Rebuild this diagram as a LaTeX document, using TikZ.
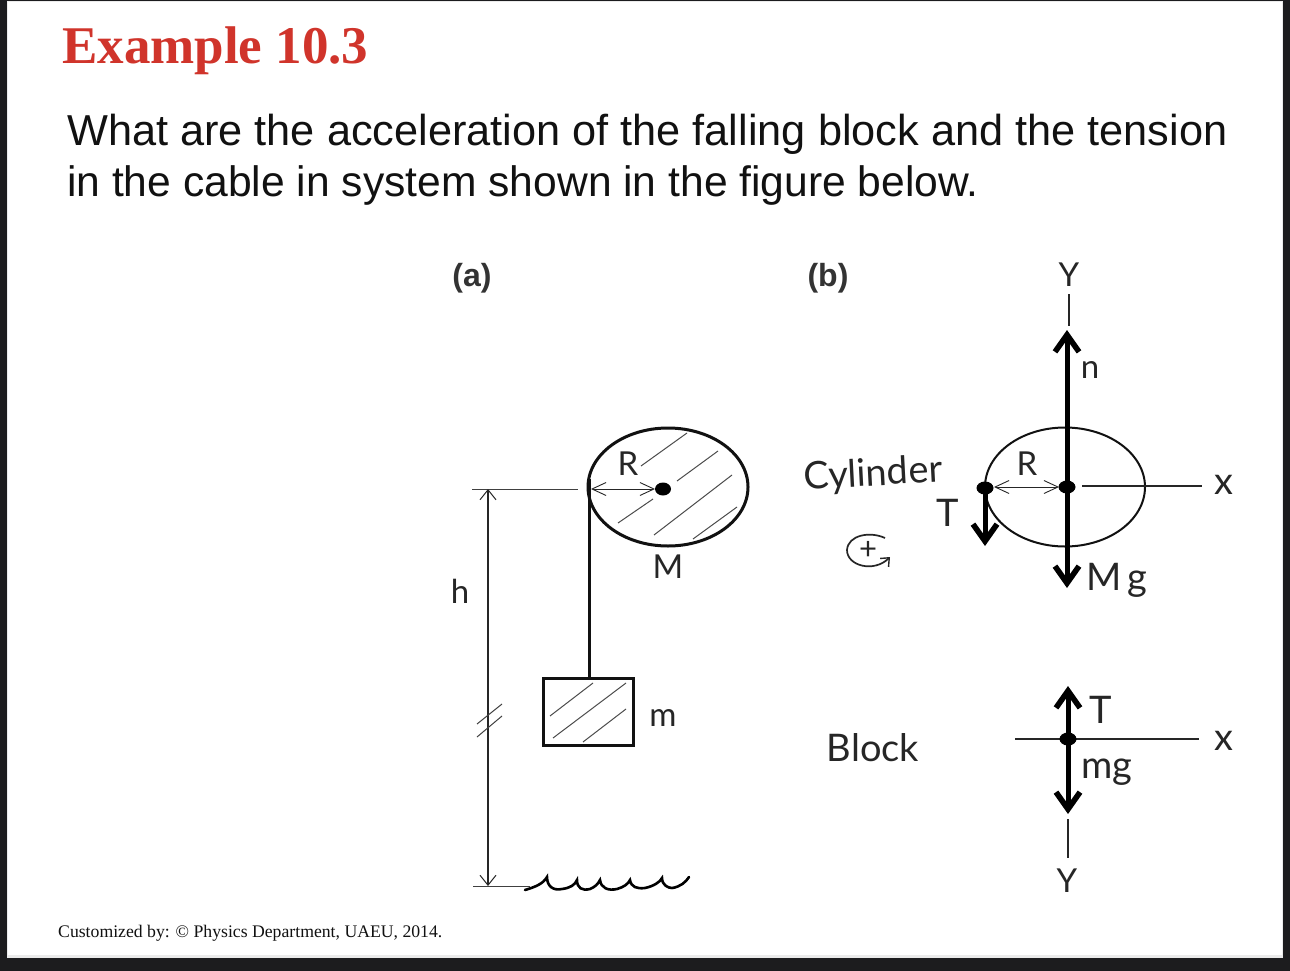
\documentclass[tikz,border=0pt]{standalone}
\usepackage{fontspec}
\usetikzlibrary{arrows.meta}
\setmainfont{Liberation Sans}
\newfontfamily\serifface{Liberation Serif}
\newfontfamily\hand{Lato}
\definecolor{frame}{HTML}{1C1C1E}
\definecolor{titlered}{HTML}{D0342B}
\definecolor{ink}{HTML}{111111}
\tikzset{
  hatch/.style={line width=1pt,draw=black!70},
  thin line/.style={line width=1pt,draw=black!75},
  wheel/.style={line width=3pt,draw=ink},
  openarrows/.style={line width=1.2pt,draw=black!85,{Straight Barb[length=10pt,width=16pt,line width=1pt]}-{Straight Barb[length=10pt,width=16pt,line width=1pt]}},
  radiusarrows/.style={line width=1pt,draw=black!85,{Straight Barb[length=14pt,width=13pt,line width=0.9pt]}-{Straight Barb[length=14pt,width=13pt,line width=0.9pt]}},
  force/.style={line width=5pt,draw=black,-{Straight Barb[length=17pt,width=24pt,line width=5.6pt]}},
  axisline/.style={line width=1.6pt,draw=black!85},
  lab/.style={font=\hand\fontsize{33}{36}\selectfont,text=black!85,inner sep=0pt},
  biglab/.style={font=\hand\fontsize{38}{42}\selectfont,text=black!85,inner sep=0pt},
  paren/.style={font=\fontsize{32}{36}\selectfont\bfseries,text=black!80,inner sep=0pt},
}
\begin{document}
\begin{tikzpicture}[x=1pt,y=-1pt]
\useasboundingbox (0,0) rectangle (1290,971);
\fill[frame] (0,0) rectangle (1290,971);
\fill[black!8] (7,1) rectangle (1283,958);
\fill[white] (8,2) rectangle (1282,955);
% header
\node[anchor=west,inner sep=0pt,text=titlered,font=\serifface\bfseries\fontsize{53}{56}\selectfont] (title) at (62,51) {Example 10.3};
\node[anchor=west,inner sep=0pt,text=ink,font=\fontsize{43.3}{48}\selectfont] (q1) at (67,134.5) {What are the acceleration of the falling block and the tension};
\node[anchor=west,inner sep=0pt,text=ink,font=\fontsize{42.6}{48}\selectfont] (q2) at (67,185.5) {in the cable in system shown in the figure below.};
\node[anchor=west,inner sep=0pt,text=ink,font=\serifface\fontsize{17.7}{22}\selectfont] (foot) at (58,933) {Customized by: © Physics Department, UAEU, 2014.};
\node[paren] (pa) at (472,278) {(a)};
\node[paren] (pb) at (828,278) {(b)};
% ---- part (a)
\draw[wheel] (668,487) ellipse [x radius=80,y radius=59];
\foreach \a/\b/\c/\d in {641/466/687/433,677/481/718/451,618/523/653/499,654/535/732/475,693/539/737/507}
  \draw[hatch] (\a,\b) -- (\c,\d);
\fill[black] (663,489) ellipse [x radius=8,y radius=6.5];
\coordinate (rimA) at (591,489);
\coordinate (hubA) at (655,489);
\draw[radiusarrows] (rimA) -- (hubA);
\coordinate (topT) at (472,489);
\coordinate (topE) at (578,489);
\draw[thin line] (topT) -- (topE);
\coordinate (baseT) at (473,886);
\coordinate (baseE) at (530,886);
\draw[thin line] (baseT) -- (baseE);
\coordinate (hTop) at (488,489);
\coordinate (hBot) at (488,886);
\draw[openarrows] (hTop) -- (hBot);
\draw[thin line] (477,724) -- (502,704);
\draw[thin line] (477,737) -- (502,716);
\coordinate (ropeTop) at (589,479);
\node[draw=ink,line width=3pt,minimum width=90pt,minimum height=67pt,inner sep=0pt,anchor=center] (block) at (588.5,712) {};
\draw[line width=3pt,draw=ink] (ropeTop) -- (ropeTop |- block.north);
\foreach \a/\b/\c/\d in {550/716/593/683,553/738/626/683,583/742/626/709}
  \draw[hatch] (\a,\b) -- (\c,\d);
\draw[line width=2.6pt,draw=black,line cap=round]
  (525,890) .. controls (535,887) and (543,884) .. (547,877)
  .. controls (547,886) and (553,891) .. (562,889)
  .. controls (570,888) and (575,885) .. (577,880)
  .. controls (577,888) and (582,891) .. (590,889)
  .. controls (595,887) and (598,884) .. (600,880)
  .. controls (601,888) and (608,891) .. (617,889)
  .. controls (624,887) and (628,884) .. (630,880)
  .. controls (631,887) and (637,889) .. (645,888)
  .. controls (654,886) and (660,882) .. (662,878)
  .. controls (662,885) and (668,888) .. (672,888)
  .. controls (680,887) and (686,882) .. (689,877);
\node[lab] (hL) at (460,591) {h};
\node[lab] (RA) at (628,464) {R};
\node[lab] (MA) at (668,567) {M};
\node[lab] (mA) at (663,718) {m};
% ---- part (b), cylinder
\draw[line width=2pt,draw=ink] (1065,487) ellipse [x radius=80,y radius=59.5];
\coordinate (cL) at (985,488);
\coordinate (cC) at (1067,487);
\coordinate (nTip) at (1067,330);
\coordinate (MgTip) at (1067,588);
\draw[force] (cC) -- (nTip);
\draw[force] (cC) -- (MgTip);
\coordinate (TTip) at (985,546);
\draw[force] (cL) -- (TTip);
\fill[black] (cL) ellipse [x radius=8.5,y radius=6.5];
\fill[black] (cC) ellipse [x radius=8.5,y radius=6.5];
\coordinate (rL) at (994,487);
\coordinate (rR) at (1059,487);
\draw[radiusarrows] (rL) -- (rR);
\coordinate (xa) at (1082,486);
\coordinate (xb) at (1202,486);
\draw[axisline] (xa) -- (xb);
\coordinate (ya) at (1069,294);
\coordinate (yb) at (1069,326);
\draw[axisline] (ya) -- (yb);
\node[lab] (Y1) at (1069,275) {Y};
\node[biglab,anchor=base] (X1) at (1224,494) {x};
\node[lab] (n) at (1090,370) {n};
\node[lab] (RB) at (1027,464) {R};
\node[biglab] (T1) at (948,513) {T};
\node[biglab,anchor=base] (Mg) at (1117,590) {M\,g};
\node[biglab,rotate=3] (cyl) at (873,475) {Cylinder};
\draw[line width=1.7pt,draw=black!85,-{Straight Barb[length=7pt,width=12pt,line width=1.4pt]}] (885,538) .. controls (870,531) and (848,535) .. (847,550) .. controls (847,566) and (874,573) .. (890,557);
\node[lab,font=\hand\fontsize{31}{33}\selectfont] (plus) at (868,550) {+};
% ---- part (b), block
\coordinate (bC) at (1068,739);
\coordinate (bUp) at (1068,686);
\coordinate (bDn) at (1068,814);
\draw[force] (bC) -- (bUp);
\draw[force] (bC) -- (bDn);
\coordinate (ax1) at (1015,739);
\coordinate (ax2) at (1199,739);
\draw[axisline] (ax1) -- (ax2);
\fill[black] (bC) ellipse [x radius=8.5,y radius=6.5];
\coordinate (y2a) at (1068,819);
\coordinate (y2b) at (1068,858);
\draw[axisline] (y2a) -- (y2b);
\node[lab] (Y2) at (1067,881) {Y};
\node[biglab,anchor=base] (X2) at (1224,750) {x};
\node[biglab] (T2) at (1101,710) {T};
\node[biglab,anchor=base] (mg) at (1107,778) {mg};
\node[biglab] (blk) at (873,748) {Block};
\end{tikzpicture}
\end{document}
